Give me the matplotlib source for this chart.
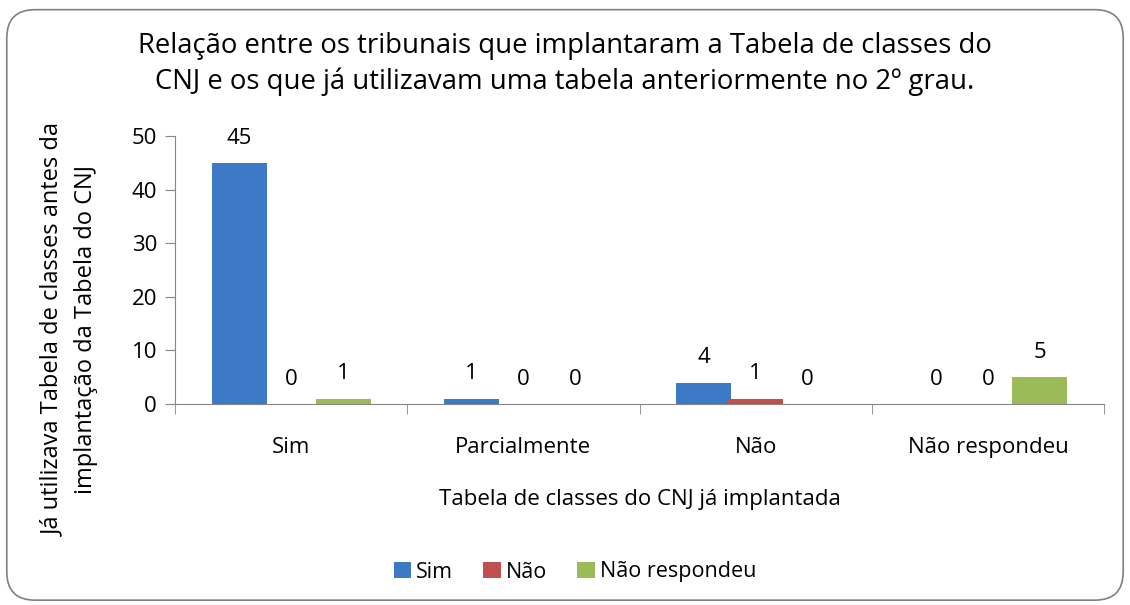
import numpy as np
import matplotlib
matplotlib.use('Agg')
import matplotlib.pyplot as plt
from matplotlib.patches import FancyBboxPatch

categories = ['Sim', 'Parcialmente', 'Não', 'Não respondeu']
series = ['Sim', 'Não', 'Não respondeu']
sim = [45, 1, 4, 0]
nao = [0, 0, 1, 0]
nao_resp = [1, 0, 0, 5]
colors = ['#3d79c4', '#c0504d', '#9bbb59']

plt.rcParams['font.family'] = ['Open Sans', 'DejaVu Sans']
fs = 16

fig = plt.figure(figsize=(11.3, 6.05), dpi=100)
border = FancyBboxPatch((0.006, 0.008), 0.988, 0.976, boxstyle='round,pad=0,rounding_size=0.025',
                        transform=fig.transFigure, fc='white', ec='#808080', lw=1.2,
                        mutation_aspect=1130/605, zorder=-1)
fig.patches.append(border)
ax = fig.add_axes([175/1130, 1-404/605, (1104-175)/1130, 268/605])
ax.patch.set_alpha(0)

x = np.arange(len(categories))
w = 0.237
off = 0.224
for i, (vals, c, lab) in enumerate(zip([sim, nao, nao_resp], colors, series)):
    bars = ax.bar(x + (i-1)*off, vals, w, color=c, linewidth=0, label=lab, zorder=2)
    for b, v in zip(bars, vals):
        ax.text(b.get_x()+b.get_width()/2, v+4.6, str(v), ha='center', va='center', fontsize=fs)

ax.set_xlim(-0.5, 3.5)
ax.set_ylim(0, 50)
ax.set_yticks(range(0, 51, 10))
ax.set_xticks(x)
ax.set_xticklabels(categories, fontsize=fs)
ax.set_xticks(np.arange(-0.5, 4, 1), minor=True)
ax.tick_params(axis='x', which='major', length=0, pad=24)
ax.tick_params(axis='x', which='minor', length=7, color='#868686', direction='out')
ax.tick_params(axis='y', labelsize=fs, length=7, color='#868686', direction='out', pad=6)
for s in ['top', 'right']:
    ax.spines[s].set_visible(False)
for s in ['left', 'bottom']:
    ax.spines[s].set_color('#868686')

ax.set_xlabel('Tabela de classes do CNJ já implantada', fontsize=16, labelpad=22)
fig.text(70/1130, 1-330/605, 'Já utilizava Tabela de classes antes da\nimplantação da Tabela do CNJ',
         rotation=90, ha='center', va='center', multialignment='center',
         fontsize=17, linespacing=1.5)
fig.text(0.5, 1-64/605, 'Relação entre os tribunais que implantaram a Tabela de classes do\n'
         'CNJ e os que já utilizavam uma tabela anteriormente no 2º grau.',
         ha='center', va='center', fontsize=19.8, linespacing=1.35)

fig.legend(loc='center', bbox_to_anchor=(575/1130, 1-572/605), ncol=3, frameon=False, fontsize=15.5,
           handlelength=0.8, handleheight=0.8, handletextpad=0.25, columnspacing=1.4)

fig.savefig('out.png', dpi=100)
